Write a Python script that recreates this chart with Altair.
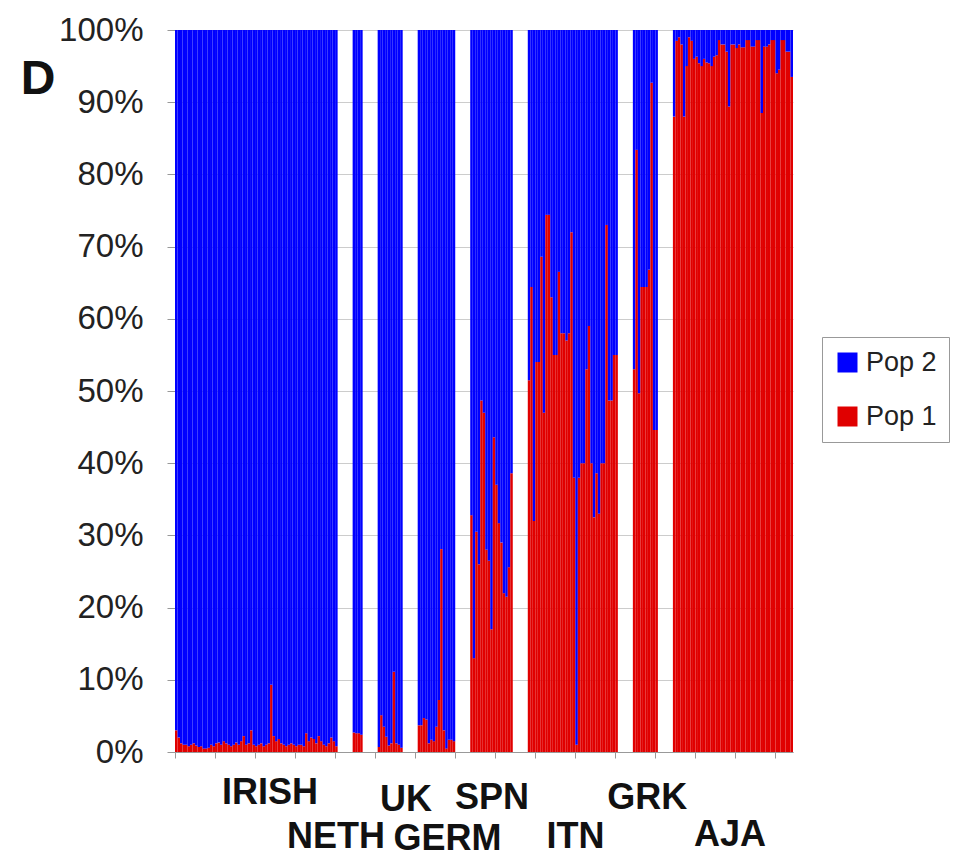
import altair as alt
import pandas as pd

# ---- data (Pop 1 share, % per individual) ----
GROUPS = ["IRISH", "NETH", "UK", "GERM", "SPN", "ITN", "GRK", "AJA"]

IRISH = [3.0, 2.0, 1.2, 1.0, 1.0, 0.8, 1.0, 1.2, 0.9, 0.7,
         0.8, 0.5, 0.5, 0.6, 1.0, 0.8, 1.2, 1.3, 1.0, 1.5,
         1.2, 1.0, 0.8, 1.0, 1.3, 1.0, 1.5, 2.2, 1.0, 1.2,
         3.0, 1.0, 0.8, 1.0, 1.2, 0.8, 1.0, 1.2, 9.3, 2.2,
         1.5, 1.8, 1.2, 1.0, 0.8, 1.0, 1.2, 1.0, 0.8, 1.0,
         1.0, 0.8, 2.6, 1.5, 2.0, 1.8, 1.2, 2.2, 1.5, 1.0,
         0.8, 1.2, 2.0, 1.5, 0.8]
NETH = [2.7, 2.6, 2.6, 2.4]
UK = [0.7, 5.1, 3.5, 2.1, 0.9, 1.2, 11.1, 1.2, 1.0, 0.6]
GERM = [3.7, 3.7, 4.7, 4.5, 1.2, 1.7, 1.5, 3.5, 7.2, 28.1, 3.0, 0.5, 1.7, 1.7, 1.5]
SPN = [32.8, 13.0, 30.5, 26.0, 48.7, 47.0, 28.0, 26.5, 17.0, 43.6, 37.0, 31.7,
       29.0, 22.0, 21.5, 25.6, 38.6]
ITN = [51.5, 64.4, 32.0, 54.0, 54.0, 68.6, 47.0, 74.4, 74.4, 63.0, 55.0, 55.0,
       66.5, 58.0, 58.0, 57.0, 58.0, 72.0, 38.0, 1.0, 38.0, 40.0, 40.0, 53.0,
       59.0, 40.0, 32.5, 38.6, 33.0, 40.0, 40.0, 73.0, 48.7, 48.7, 55.0, 55.0]
GRK = [53.0, 83.4, 49.7, 64.4, 64.4, 64.4, 66.8, 92.7, 44.6, 44.6]
AJA = [88.0, 98.5, 99.0, 98.0, 88.0, 95.0, 99.0, 98.5, 96.0, 96.3, 95.4, 95.0,
       96.0, 95.5, 95.4, 95.0, 96.3, 96.5, 98.6, 98.0, 98.0, 97.0, 89.4, 98.0,
       98.0, 97.5, 98.0, 97.6, 97.6, 98.6, 98.6, 97.7, 97.7, 98.6, 98.6, 88.5,
       97.7, 97.7, 98.0, 98.6, 98.6, 94.0, 94.5, 98.6, 98.6, 97.0, 97.0, 93.5]

POP1 = {"IRISH": IRISH, "NETH": NETH, "UK": UK, "GERM": GERM,
        "SPN": SPN, "ITN": ITN, "GRK": GRK, "AJA": AJA}
GAP_SLOTS = 6

# group label placement (in bar-slot units) and vertical offset below plot top (px)
LABEL_SLOT = [38.0, 64.3, 92.3, 108.9, 126.7, 160.1, 188.7, 221.8]
LABEL_Y = [763, 806.5, 770, 808.5, 768, 806.5, 767.5, 805]

rows = []
slot = 0
for gi, g in enumerate(GROUPS):
    if gi > 0:
        slot += GAP_SLOTS
    for v in POP1[g]:
        p1 = v / 100.0
        rows.append(dict(slot=slot, slot2=slot + 1, pop="Pop 1", lo=0.0, hi=p1, group=g))
        rows.append(dict(slot=slot, slot2=slot + 1, pop="Pop 2", lo=p1, hi=1.0, group=g))
        slot += 1
N = slot

df = pd.DataFrame(rows)
lab = pd.DataFrame({"name": GROUPS, "slot": LABEL_SLOT, "ly": LABEL_Y})

W, H = 618, 722
FONT = "Liberation Sans"

xscale = alt.Scale(domain=[0, N], nice=False, zero=False)

bars = alt.Chart(df).mark_bar().encode(
    x=alt.X("slot:Q", scale=xscale,
            axis=alt.Axis(values=list(range(N + 1)), labels=False, ticks=True,
                          tickColor="#999999", tickSize=6, domainColor="#999999",
                          grid=False, title=None)),
    x2="slot2:Q",
    y=alt.Y("lo:Q", scale=alt.Scale(domain=[0, 1], nice=False),
            axis=alt.Axis(format=".0%", values=[round(i / 10, 1) for i in range(11)],
                          labelFontSize=33, labelFont=FONT, labelColor="#222222",
                          tickColor="#999999", tickSize=8, labelPadding=24,
                          domain=False, gridColor="#cccccc", title=None)),
    y2="hi:Q",
    color=alt.Color("pop:N",
                    scale=alt.Scale(domain=["Pop 2", "Pop 1"], range=["#0000ff", "#e00000"]),
                    legend=alt.Legend(orient="none", legendX=647, legendY=307, title=None,
                                      strokeColor="#999999", fillColor="white", padding=12,
                                      symbolType="square", symbolSize=400, symbolStrokeWidth=0,
                                      labelFontSize=27, labelFont=FONT, labelColor="#222222",
                                      labelOffset=5, rowPadding=26)),
)

labels = alt.Chart(lab).mark_text(fontSize=36, fontWeight="bold", font=FONT,
                                  align="center", baseline="middle", color="#111111").encode(
    x=alt.X("slot:Q", scale=xscale),
    y=alt.Y("ly:Q", scale=alt.Scale(domain=[0, H], range=[0, H]), axis=None),
    text="name:N",
)

letter = alt.Chart(pd.DataFrame({"t": ["D"]})).mark_text(
    fontSize=48, fontWeight="bold", font=FONT, align="center", baseline="middle",
    color="#111111").encode(x=alt.value(-137), y=alt.value(50), text="t:N")

chart = alt.layer(bars, labels, letter).resolve_scale(y="independent").properties(
    width=W, height=H,
    autosize=alt.AutoSizeParams(type="none"),
    padding={"left": 175, "top": 30, "right": 168, "bottom": 104},
).configure_view(stroke=None)

chart.save("out.html", embed_options={"renderer": "svg", "actions": False})
